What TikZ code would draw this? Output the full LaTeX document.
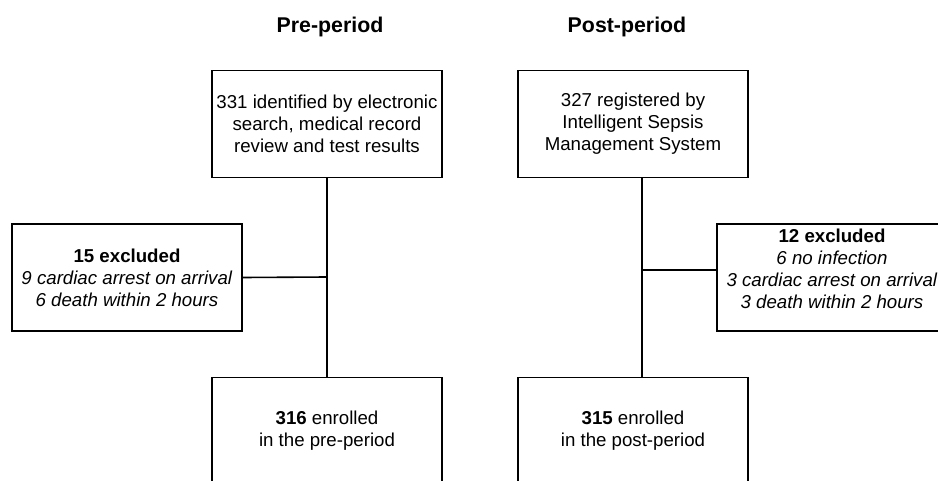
\documentclass[tikz,border=0pt]{standalone}
\usepackage{fontspec}
\setmainfont{Liberation Sans}
\usepackage{tikz}
\usetikzlibrary{positioning}

\tikzset{
  flowbox/.style={draw, line width=1.3pt, align=center, minimum width=172.5pt,
    minimum height=80.25pt, inner sep=2pt, font=\fontsize{14}{16.5}\selectfont},
  heading/.style={font=\fontsize{16}{19}\selectfont\bfseries},
  joinline/.style={line width=1.2pt}
}

\begin{document}
\begin{tikzpicture}[x=0.75pt,y=-0.75pt]
      \useasboundingbox (0,0) rectangle (938,481);
      % column headings
      \node[heading] (prehead) at (330,27) {Pre-period};
      \node[heading] (posthead) at (627,27) {Post-period};
      % pre-period column
      \node[flowbox] (preid) at (327,124) {331 identified by electronic\\ search, medical record\\ review and test results};
      \node[flowbox] (preex) at (127,277.5) {\textbf{15 excluded}\\ \textit{9 cardiac arrest on arrival}\\ \textit{6 death within 2 hours}};
      \node[flowbox] (preenr) at (327,431) {\textbf{316} enrolled\\ in the pre-period};
      % post-period column
      \node[flowbox] (postid) at (633,124) {327 registered by\\ Intelligent Sepsis\\ Management System};
      \node[flowbox] (postex) at (832,277.5) {\textbf{12 excluded}\\ \textit{6 no infection}\\ \textit{3 cardiac arrest on arrival}\\ \textit{3 death within 2 hours}\\[-4pt]\mbox{}};
      \node[flowbox] (postenr) at (633,431) {\textbf{315} enrolled\\ in the post-period};
      \coordinate (prejoin) at (327,277);
      \coordinate (postjoin) at (642,270);
      \draw[joinline] (preid.south) -- (preenr.north);
      \draw[joinline] (preex.east) -- (prejoin);
      \draw[joinline] (postjoin |- postid.south) -- (postjoin |- postenr.north);
      \draw[joinline] (postjoin) -- (postjoin -| postex.west);
    \end{tikzpicture}
\end{document}
